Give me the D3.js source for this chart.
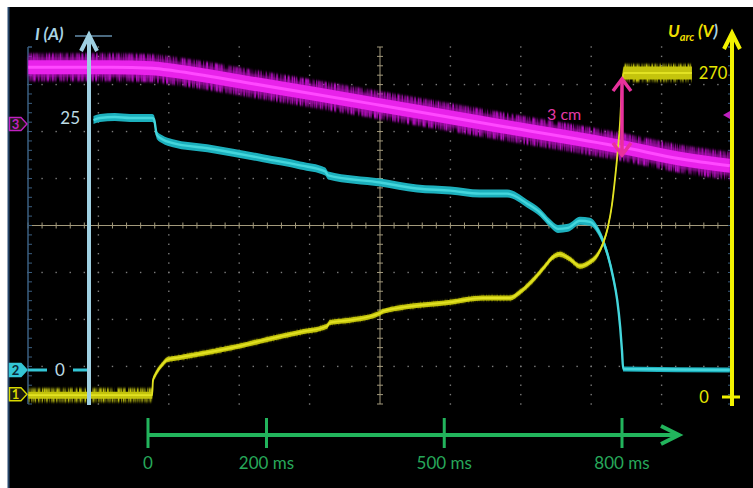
<!DOCTYPE html>
<html><head><meta charset="utf-8">
<script src="https://cdn.jsdelivr.net/npm/d3@7"></script>
<style>html,body{margin:0;padding:0;background:#fff;} svg{display:block;font-family:Lato,"Open Sans",sans-serif;}</style>
</head><body><svg id="c" width="753" height="488"></svg>
<script>
// ---- data ----
const timeTicks = [0, 200, 500, 800];
const timeTickLabels = ["0", "200 ms", "500 ms", "800 ms"];
const currentTickValues = [0, 25];
const voltageTickValues = [0, 270];

// channel 2 : arc current (A)
const currentT = [-92, -81, -56, -30, 7, 10, 15, 24, 42, 100, 194, 257, 299, 304, 392, 454, 510, 560, 606, 640, 662, 678, 692, 709, 729, 746, 758, 768, 776, 785, 792, 797, 800, 802, 982];
const currentA = [24.8, 25.0, 25.1, 25.0, 25.0, 24.9, 23.3, 22.9, 22.5, 22.0, 21.0, 20.3, 19.7, 19.3, 18.6, 18.0, 17.8, 17.5, 17.5, 16.5, 15.6, 14.6, 14.0, 14.1, 14.8, 14.7, 14.0, 12.8, 11.4, 9.2, 6.9, 4.2, 1.9, 0.1, 0.0];

// channel 1 : arc voltage (V)
const voltageT = [-202, 7, 8.4, 11.8, 17, 25, 32, 54, 105, 155, 201, 257, 302, 307, 341, 392, 397, 510, 565, 611, 628, 650, 670, 682, 695, 712, 729, 746, 758, 768, 776, 783, 788, 793, 797, 800, 803, 918];
const voltageV = [1.5, 1.5, 14, 18, 22.5, 27.5, 31, 33, 37.5, 42.5, 48, 54, 59, 62, 64, 70, 71.5, 79, 82.5, 82.5, 87.5, 97.5, 109, 116, 119, 115, 109, 112.5, 118, 128, 141, 160, 181, 206, 231, 260, 270, 270];

// channel 3 : electrode position (screen divisions)
const electrodeT = [-202, -61, 7, 46, 172, 392, 594, 800, 898, 982];
const electrodeDiv = [3.37, 3.37, 3.35, 3.29, 3.03, 2.56, 2.12, 1.67, 1.42, 1.27];

// ---- scales ----
const x = d3.scaleLinear().domain([0, 800]).range([148, 622]);
const gx = d3.scaleLinear().domain([0, 10]).range([28, 732]);
const gy = d3.scaleLinear().domain([-3.8, 3.8]).range([404, 47]);
const yI = d3.scaleLinear().domain([0, 25]).range([370, 118]);
const yU = d3.scaleLinear().domain([0, 270]).range([397, 73]);

const svg = d3.select("#c");
const defs = svg.append("defs");
function noiseFilter(id, seed, freq){
  const f = defs.append("filter").attr("id",id).attr("x","-2%").attr("y","-30%").attr("width","104%").attr("height","160%");
  f.append("feTurbulence").attr("type","fractalNoise").attr("baseFrequency",freq).attr("numOctaves",2).attr("seed",seed).attr("result","n");
  f.append("feColorMatrix").attr("in","n").attr("type","matrix")
    .attr("values","0 0 0 0 0  0 0 0 0 0  0 0 0 0 0  2.4 0 0 0 -0.7").attr("result","a");
  f.append("feComposite").attr("in","SourceGraphic").attr("in2","a").attr("operator","in").attr("result","c");
  f.append("feGaussianBlur").attr("in","c").attr("stdDeviation","0.4 0.9");
}
noiseFilter("noiseM", 3, "0.55 0.02");
noiseFilter("noiseY", 7, "0.6 0.03");
defs.append("filter").attr("id","soft").append("feGaussianBlur").attr("stdDeviation",0.7);
defs.append("filter").attr("id","soft2").append("feGaussianBlur").attr("stdDeviation",1.8);

// background
svg.append("rect").attr("x",8).attr("y",7).attr("width",745).attr("height",481).attr("fill","#000");
svg.append("line").attr("x1",8.5).attr("x2",8.5).attr("y1",7).attr("y2",488).attr("stroke","#27466a").attr("stroke-width",2);

// ---- graticule ----
const grat = svg.append("g");
const minorX = d3.range(0, 50).map(i => i * 0.2);
const minorY = d3.range(0, 39).map(i => -3.8 + i * 0.2);
[-3,-2,-1,1,2,3].forEach(r => {
  minorX.forEach(m => grat.append("rect").attr("x", gx(m)-0.7).attr("y", gy(r)-0.7).attr("width",1.4).attr("height",1.4).attr("fill","#7c7c7c"));
});
[1,2,3,4,6,7,8,9].forEach(c => {
  minorY.forEach(m => grat.append("rect").attr("x", gx(c)-0.7).attr("y", gy(m)-0.7).attr("width",1.4).attr("height",1.4).attr("fill","#7c7c7c"));
});
grat.append("line").attr("x1",gx(0)).attr("x2",gx(10)).attr("y1",gy(0)).attr("y2",gy(0)).attr("stroke","#a39a7c").attr("stroke-width",1);
grat.append("line").attr("x1",gx(5)).attr("x2",gx(5)).attr("y1",gy(3.8)).attr("y2",gy(-3.8)).attr("stroke","#a39a7c").attr("stroke-width",1);
minorX.forEach(m => grat.append("line").attr("x1",gx(m)).attr("x2",gx(m)).attr("y1",gy(0)-3).attr("y2",gy(0)+3).attr("stroke","#a39a7c"));
minorY.forEach(m => grat.append("line").attr("x1",gx(5)-3).attr("x2",gx(5)+3).attr("y1",gy(m)).attr("y2",gy(m)).attr("stroke","#a39a7c"));
[[0,1],[10,-1]].forEach(([c,dir]) => {
  grat.append("line").attr("x1",gx(c)).attr("x2",gx(c)).attr("y1",gy(3.8)).attr("y2",gy(-3.8)).attr("stroke","#3a5f82").attr("stroke-width",1.5);
  minorY.concat([3.8]).forEach(m => grat.append("line").attr("x1",gx(c)).attr("x2",gx(c)+dir*4).attr("y1",gy(m)).attr("y2",gy(m)).attr("stroke","#3a5f82"));
});

// ---- traces ----
function pts(ts, vs){ return ts.map((t,i)=>({t, v: vs[i]})); }
function bandPath(data, ys, h){
  return d3.area().x(d=>x(d.t)).y0(d=>ys(d.v)-h(d.t)).y1(d=>ys(d.v)+h(d.t)).curve(d3.curveMonotoneX)(data);
}
function linePath(data, ys){ return d3.line().x(d=>x(d.t)).y(d=>ys(d.v)).curve(d3.curveMonotoneX)(data); }

// magenta electrode trace
const mData = pts(electrodeT, electrodeDiv);
svg.append("path").attr("d", bandPath(mData, gy, ()=>14)).attr("fill","#b812c4").attr("filter","url(#noiseM)");
svg.append("path").attr("d", bandPath(mData, gy, ()=>10)).attr("fill","#b010b8").attr("opacity",0.7).attr("filter","url(#soft2)");
svg.append("path").attr("d", bandPath(mData, gy, ()=>7)).attr("fill","#e820ea").attr("filter","url(#soft)");
svg.append("path").attr("d", linePath(mData, gy)).attr("fill","none").attr("stroke","#ff48ff").attr("stroke-width",3).attr("filter","url(#soft)");

// cyan current trace
const cData = pts(currentT, currentA);
svg.append("path").attr("d", bandPath(cData, yI, t=> t>801 ? 2.5 : 4)).attr("fill","#1fb0bd").attr("filter","url(#soft)");
svg.append("path").attr("d", linePath(cData, yI)).attr("fill","none").attr("stroke","#44d6dc").attr("stroke-width",2.4);

// yellow voltage trace
const vData = pts(voltageT, voltageV);
svg.append("path").attr("d", bandPath(vData, yU, t=> t<7.5 ? 7 : (t>802 ? 9 : 2.5))).attr("fill","#c8c810").attr("filter","url(#noiseY)");
svg.append("path").attr("d", bandPath(vData, yU, t=> t<7.5 ? 3.5 : (t>802 ? 6.5 : 2.5))).attr("fill","#c4c40a").attr("filter","url(#soft)");
svg.append("path").attr("d", linePath(vData, yU)).attr("fill","none").attr("stroke","#e2e222").attr("stroke-width",1.8);

// ---- channel markers ----
function marker(y, col, label, filled){
  const g = svg.append("g");
  g.append("path").attr("d", `M9.5,${y-6.5} H21 L27,${y} L21,${y+6.5} H9.5 Z`)
    .attr("fill", filled ? col : "#1a1a10").attr("stroke", col).attr("stroke-width",1.4);
  g.append("text").attr("x",15.5).attr("y",y+4.5).attr("text-anchor","middle").attr("font-size",13).attr("font-weight","bold")
    .attr("fill", filled ? "#0a2a38" : col).text(label);
}
marker(124, "#c020c0", "3", false);
marker(yI(0), "#34c6d6", "2", true);
marker(yU(voltageV[0]) - 1, "#d8d800", "1", false);

svg.append("line").attr("x1",28).attr("x2",47).attr("y1",yI(0)).attr("y2",yI(0)).attr("stroke","#34c6d6").attr("stroke-width",3);
svg.append("line").attr("x1",73).attr("x2",90).attr("y1",yI(0)).attr("y2",yI(0)).attr("stroke","#34c6d6").attr("stroke-width",3);

svg.append("path").attr("d","M723,115 L730,111 L730,119 Z").attr("fill","#c020c0");

// ---- current axis (left) ----
const iAx = svg.append("g");
iAx.append("line").attr("x1",75).attr("x2",112).attr("y1",36).attr("y2",36).attr("stroke","#4b6a80").attr("stroke-width",2);
iAx.append("line").attr("x1",89).attr("x2",89).attr("y1",35).attr("y2",405).attr("stroke","#9fd0e2").attr("stroke-width",4);
iAx.append("path").attr("d","M81,51 L89,35 L97,51").attr("fill","none").attr("stroke","#9fd0e2").attr("stroke-width",4);
iAx.append("text").attr("x",35).attr("y",40).attr("font-size",17).attr("font-style","italic").attr("font-weight","bold").attr("fill","#a8d4e6").text("I (A)");
iAx.selectAll("text.tk").data(currentTickValues).join("text").attr("class","tk")
  .attr("x", d => d===0 ? 60 : 80).attr("y", d => yI(d)+6).attr("text-anchor", d => d===0 ? "middle" : "end")
  .attr("font-size",17).attr("fill","#bcdbe4").text(d=>d);

// ---- voltage axis (right) ----
const uAx = svg.append("g");
uAx.append("line").attr("x1",732).attr("x2",732).attr("y1",33).attr("y2",406).attr("stroke","#f2f200").attr("stroke-width",4);
uAx.append("path").attr("d","M724,49 L732,33 L740,49").attr("fill","none").attr("stroke","#f2f200").attr("stroke-width",4);
uAx.append("line").attr("x1",722).attr("x2",740).attr("y1",yU(0)).attr("y2",yU(0)).attr("stroke","#f2f200").attr("stroke-width",3);
uAx.selectAll("text.tk").data(voltageTickValues).join("text").attr("class","tk")
  .attr("x", d => d===0 ? 704 : 713).attr("y", d => yU(d)+6).attr("text-anchor","middle")
  .attr("font-size",16.5).attr("fill","#e6e600").text(d=>d);
const ut = uAx.append("text").attr("x",668).attr("y",37).attr("font-size",17).attr("font-style","italic").attr("font-weight","bold").attr("fill","#eede00");
ut.append("tspan").text("U");
ut.append("tspan").attr("font-size",11).attr("dy",4).text("arc");
ut.append("tspan").attr("dy",-4).text(" (V");
ut.append("tspan").attr("fill","#a8d4e6").text(")");

// ---- 3 cm arrow ----
const arr = svg.append("g").attr("stroke","#e8319c").attr("stroke-width",3.5).attr("fill","none");
arr.append("line").attr("x1",x(800)).attr("x2",x(800)).attr("y1",yU(270)+6).attr("y2",gy(electrodeDiv[7])+8);
arr.append("path").attr("d",`M${x(800)-9},${yU(270)+18} L${x(800)},${yU(270)+6} L${x(800)+9},${yU(270)+18}`);
arr.append("path").attr("d",`M${x(800)-9},${gy(electrodeDiv[7])-4} L${x(800)},${gy(electrodeDiv[7])+8} L${x(800)+9},${gy(electrodeDiv[7])-4}`);
svg.append("text").attr("x",547).attr("y",120).attr("font-size",16).attr("fill","#e43aa8").text("3 cm");

// ---- time axis ----
const tg = svg.append("g");
const green = "#22b45c";
tg.append("line").attr("x1",x(0)).attr("x2",678).attr("y1",435).attr("y2",435).attr("stroke",green).attr("stroke-width",4);
tg.append("path").attr("d","M661,426 L679,435 L661,444").attr("fill","none").attr("stroke",green).attr("stroke-width",4);
tg.selectAll("line.tk").data(timeTicks).join("line").attr("class","tk")
  .attr("x1",d=>x(d)).attr("x2",d=>x(d)).attr("y1",418).attr("y2",448).attr("stroke",green).attr("stroke-width",3);
tg.selectAll("text").data(timeTicks).join("text")
  .attr("x",d=>x(d)).attr("y",469).attr("text-anchor","middle").attr("font-size",17).attr("fill","#27a85a")
  .text((d,i)=>timeTickLabels[i]);
</script></body></html>
